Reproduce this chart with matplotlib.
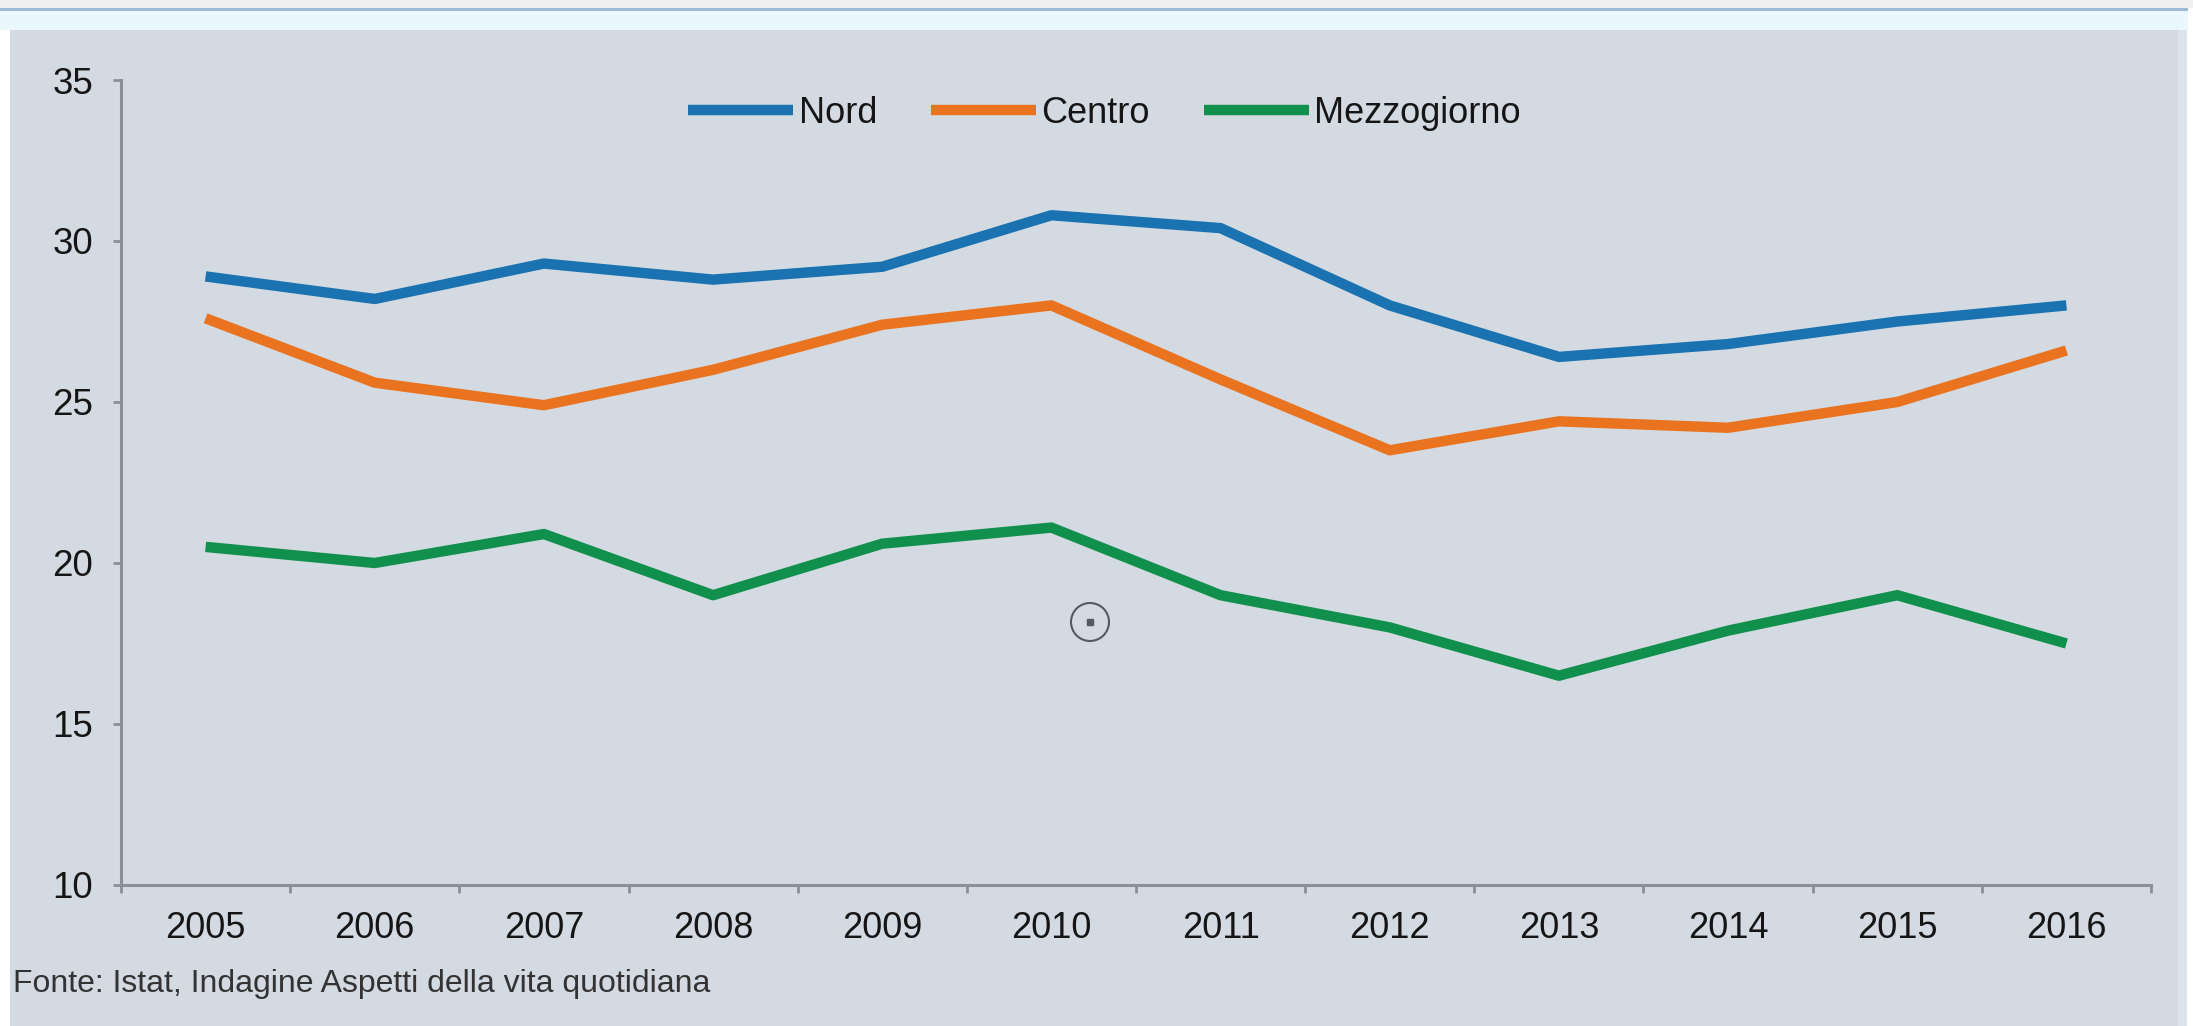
"""
Linee per ripartizione geografica (Nord, Centro, Mezzogiorno), 2005-2016
"""

import matplotlib
matplotlib.use('Agg')
import matplotlib.pyplot as plt
from matplotlib.patches import Rectangle, Circle
import numpy as np

# Dati
anni = ['2005', '2006', '2007', '2008', '2009', '2010',
        '2011', '2012', '2013', '2014', '2015', '2016']
nord = [28.9, 28.2, 29.3, 28.8, 29.2, 30.8, 30.4, 28.0, 26.4, 26.8, 27.5, 28.0]
centro = [27.6, 25.6, 24.9, 26.0, 27.4, 28.0, 25.7, 23.5, 24.4, 24.2, 25.0, 26.6]
mezzogiorno = [20.5, 20.0, 20.9, 19.0, 20.6, 21.1, 19.0, 18.0, 16.5, 17.9, 19.0, 17.5]
y_ticks = [10, 15, 20, 25, 30, 35]
fonte = 'Fonte: Istat, Indagine Aspetti della vita quotidiana'

plt.rcParams['font.family'] = ['Liberation Sans', 'DejaVu Sans']

W, H = 2193, 1026
fig = plt.figure(figsize=(W / 100, H / 100), dpi=100, facecolor='white')

# Sfondo del pannello e striscia superiore (come nello screenshot)
def px_rect(x0, y0, x1, y1, color):
    fig.patches.append(Rectangle((x0 / W, 1 - y1 / H), (x1 - x0) / W, (y1 - y0) / H,
                                 transform=fig.transFigure, facecolor=color,
                                 edgecolor='none', zorder=-10))

px_rect(0, 0, W, 8, '#F0F0F0')
px_rect(0, 8, 2188, 11, '#9DBBD4')
px_rect(0, 11, 2188, 30, '#EAF7FD')
px_rect(10, 30, 2178, H, '#D4DAE2')
px_rect(2178, 30, 2187, H, '#DCE3EA')

ax = fig.add_axes([121 / W, 1 - 885 / H, (2151 - 121) / W, (885 - 80) / H])
ax.set_facecolor('none')

x = np.arange(len(anni))
stile = dict(lw=7.5, solid_capstyle='butt', solid_joinstyle='round')
ax.plot(x, nord, color='#1A72B0', label='Nord', **stile)
ax.plot(x, centro, color='#E9731F', label='Centro', **stile)
ax.plot(x, mezzogiorno, color='#11904D', label='Mezzogiorno', **stile)

ax.set_xlim(-0.5, len(anni) - 0.5)
ax.set_ylim(10, 35)

# Assi
for s in ['top', 'right']:
    ax.spines[s].set_visible(False)
for s in ['left', 'bottom']:
    ax.spines[s].set_color('#8A9098')
    ax.spines[s].set_linewidth(2.2)

ax.set_yticks(y_ticks)
ax.set_yticklabels([str(v) for v in y_ticks])
ax.tick_params(axis='y', length=6, width=2, color='#8A9098', pad=14,
               labelsize=26.5, labelcolor='#151515')

# Tacche tra le categorie, etichette al centro
ax.set_xticks(np.arange(-0.5, len(anni), 1.0))
ax.set_xticklabels([])
ax.set_xticks(x, minor=True)
ax.set_xticklabels(anni, minor=True)
ax.tick_params(axis='x', which='major', length=6, width=2, color='#8A9098')
ax.tick_params(axis='x', which='minor', length=0, pad=19,
               labelsize=26, labelcolor='#151515')

leg = ax.legend(loc='center', bbox_to_anchor=(0.4845, 0.959), ncol=3, frameon=False,
                fontsize=26, handlelength=2.9, handletextpad=0.15,
                columnspacing=1.5, labelcolor='#151515')

# Fonte
fig.text(13 / W, 1 - 992 / H, fonte, fontsize=23, color='#333333',
         ha='left', va='baseline')

# Icona del cursore presente nello screenshot
ax_icon = fig.add_axes([1070 / W, 1 - 642 / H, 40 / W, 40 / H])
ax_icon.set_xlim(-1, 1)
ax_icon.set_ylim(-1, 1)
ax_icon.set_aspect('equal')
ax_icon.axis('off')
ax_icon.add_patch(Circle((0, 0), 0.95, fill=False, edgecolor='#555A60', lw=1.5))
ax_icon.add_patch(Rectangle((-0.15, -0.15), 0.3, 0.3, color='#555A60'))

fig.savefig('out.png', dpi=100, facecolor=fig.get_facecolor())
